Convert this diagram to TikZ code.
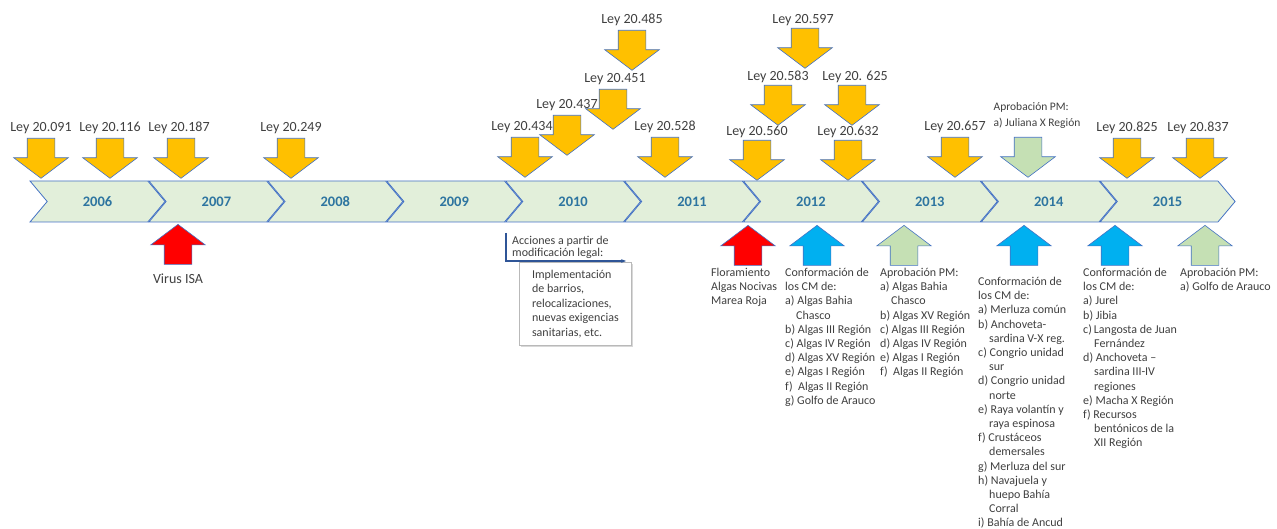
\documentclass[tikz,border=0pt]{standalone}
\usepackage{fontspec}
\setmainfont{Carlito}
\usetikzlibrary{positioning,shapes.arrows,shapes.symbols,shadows,backgrounds,arrows.meta}
\definecolor{leycolor}{RGB}{255,192,0}
\definecolor{edgecolor}{RGB}{68,114,196}
\definecolor{pmcolor}{RGB}{197,224,180}
\definecolor{cmcolor}{RGB}{0,176,240}
\definecolor{isacolor}{RGB}{255,0,0}
\definecolor{chevcolor}{RGB}{226,239,218}
\definecolor{yearcolor}{RGB}{46,117,160}
\definecolor{txtcolor}{RGB}{64,64,64}
\definecolor{acccolor}{RGB}{47,85,151}

\begin{document}
\begin{tikzpicture}[x=1pt, y=-1pt,
  yearbox/.style={signal, signal to=east, signal from=west, signal pointer angle=100,
                  draw=edgecolor, line width=0.8pt, fill=chevcolor, inner sep=0pt,
                  minimum width=135pt, minimum height=41pt,
                  font=\fontsize{14.5}{17}\selectfont\bfseries, text=yearcolor},
  blockarrow/.style={single arrow, draw=edgecolor, line width=0.6pt,
                     inner xsep=0pt, inner ysep=13.5pt, minimum height=40pt,
                     single arrow head extend=13.5pt, single arrow tip angle=106},
  leydown/.style={blockarrow, fill=leycolor, rotate=-90, anchor=tail},
  pmdown/.style={blockarrow, fill=pmcolor, rotate=-90, anchor=tail},
  pmup/.style={blockarrow, fill=pmcolor, rotate=90, anchor=tip},
  cmup/.style={blockarrow, fill=cmcolor, rotate=90, anchor=tip},
  isaup/.style={blockarrow, fill=isacolor, rotate=90, anchor=tip},
  leylabel/.style={font=\fontsize{14}{16}\selectfont, text=txtcolor, inner sep=1pt},
  nota/.style={font=\fontsize{12}{14.2}\selectfont, text=txtcolor, align=left,
               anchor=north west, inner sep=0pt},
  caja/.style={draw=gray!55, fill=white, line width=0.8pt, anchor=north west,
               drop shadow={shadow xshift=1.5pt, shadow yshift=-1.5pt, opacity=0.3},
               minimum width=112pt, minimum height=83pt, inner xsep=10pt,
               align=left, font=\fontsize{12}{14.6}\selectfont, text=txtcolor},
  accline/.style={draw=acccolor, line width=1.2pt, -{Stealth[length=5pt]}}
]
\useasboundingbox (0,0) rectangle (1277,529);
\begin{pgfonlayer}{background}
  \fill[white] (0,0) rectangle (1277,529);
\end{pgfonlayer}

% timeline
\node[yearbox] (y2006) at (97.5,201.5) {2006};
\node[yearbox] (y2007) at (216.4,201.5) {2007};
\node[yearbox] (y2008) at (335.3,201.5) {2008};
\node[yearbox] (y2009) at (454.2,201.5) {2009};
\node[yearbox] (y2010) at (573.1,201.5) {2010};
\node[yearbox] (y2011) at (692.0,201.5) {2011};
\node[yearbox] (y2012) at (810.9,201.5) {2012};
\node[yearbox] (y2013) at (929.8,201.5) {2013};
\node[yearbox] (y2014) at (1048.7,201.5) {2014};
\node[yearbox] (y2015) at (1167.6,201.5) {2015};

% leyes
\node[leydown] (a091) at (41,138) {};
\node[leydown] (a116) at (110,138) {};
\node[leydown] (a187) at (181,138) {};
\node[leydown] (a249) at (291,138) {};
\node[leydown] (a434) at (525,137) {};
\node[leydown] (a437) at (567,115) {};
\node[leydown] (a451) at (613,89) {};
\node[leydown] (a485) at (632,30) {};
\node[leydown] (a528) at (665,137) {};
\node[leydown] (a560) at (757,140) {};
\node[leydown] (a583) at (778,85) {};
\node[leydown] (a597) at (805,28) {};
\node[leydown] (a625) at (852,85) {};
\node[leydown] (a632) at (848,140) {};
\node[leydown] (a657) at (955,137) {};
\node[pmdown] (pm14) at (1028,137) {};
\node[leydown] (a825) at (1127,138) {};
\node[leydown] (a837) at (1200,138) {};

\begin{pgfonlayer}{background}
\node[leylabel, above=3pt of a091.tail] (l091) {Ley 20.091};
\node[leylabel, above=3pt of a116.tail] (l116) {Ley 20.116};
\node[leylabel, above=3pt of a187.tail, xshift=-2pt] (l187) {Ley 20.187};
\node[leylabel, above=3pt of a249.tail] (l249) {Ley 20.249};
\node[leylabel, above=3pt of a434.tail, xshift=-3pt] (l434) {Ley 20.434};
\node[leylabel, above=3pt of a437.tail] (l437) {Ley 20.437};
\node[leylabel, above=3pt of a451.tail, xshift=2pt] (l451) {Ley 20.451};
\node[leylabel, above=3pt of a485.tail] (l485) {Ley 20.485};
\node[leylabel, above=3pt of a528.tail] (l528) {Ley 20.528};
\node[leylabel, above=1pt of a560.tail] (l560) {Ley 20.560};
\node[leylabel, above=1pt of a583.tail] (l583) {Ley 20.583};
\node[leylabel, above=1pt of a597.tail, xshift=-2pt] (l597) {Ley 20.597};
\node[leylabel, above=1pt of a625.tail, xshift=3pt] (l625) {Ley 20. 625};
\node[leylabel, above=1pt of a632.tail] (l632) {Ley 20.632};
\node[leylabel, above=3pt of a657.tail] (l657) {Ley 20.657};
\node[leylabel, font=\fontsize{11.5}{16}\selectfont, align=left,
      above=7pt of pm14.tail, xshift=9pt] (lpm14) {Aprobación PM:\\a) Juliana X Región};
\node[leylabel, above=3pt of a825.tail] (l825) {Ley 20.825};
\node[leylabel, above=3pt of a837.tail, xshift=-2pt] (l837) {Ley 20.837};
\end{pgfonlayer}

% hechos bajo la linea
\node[isaup] (isa07) at (178,224) {};
\node[isaup] (fan12) at (748,225) {};
\node[cmup] (cm12) at (817,225) {};
\node[pmup] (pm13) at (904,225) {};
\node[cmup] (cm14) at (1024,225) {};
\node[cmup] (cm15) at (1115,225) {};
\node[pmup] (pm15) at (1205,225) {};

\node[leylabel, inner sep=0pt, below=9pt of isa07.tail] (isa) {Virus ISA};

\node[nota, font=\fontsize{12}{12}\selectfont] (acc) at (512,236)
  {Acciones a partir de\\modificación legal:};
\node[caja] (impl) at (519,262)
  {Implementación\\de barrios,\\relocalizaciones,\\nuevas exigencias\\sanitarias, etc.};
\coordinate (accA) at (506,233);
\coordinate (accB) at (506,261);
\coordinate (accC) at (626,261);
\draw[accline] (accA) -- (accB) -- (accC);

\node[nota] (fan) at (711,268) {Floramiento\\Algas Nocivas\\Marea Roja};

\node[nota] (tcm12) at (785,268)
  {Conformación de\\los CM de:\\a) Algas Bahia\\\hspace*{11pt}Chasco\\
   b) Algas III Región\\c) Algas IV Región\\d) Algas XV Región\\
   e) Algas I Región\\f)\ \ Algas II Región\\g) Golfo de Arauco};

\node[nota] (tpm13) at (880,268)
  {Aprobación PM:\\a) Algas Bahia\\\hspace*{11pt}Chasco\\b) Algas XV Región\\
   c) Algas III Región\\d) Algas IV Región\\e) Algas I Región\\f)\ \ Algas II Región};

\node[nota] (tcm14) at (978,277)
  {Conformación de\\los CM de:\\a) Merluza común\\b) Anchoveta-\\
   \hspace*{11pt}sardina V-X reg.\\c) Congrio unidad\\\hspace*{11pt}sur\\
   d) Congrio unidad\\\hspace*{11pt}norte\\e) Raya volantín y\\
   \hspace*{11pt}raya espinosa\\f) Crustáceos\\\hspace*{11pt}demersales\\
   g) Merluza del sur\\h) Navajuela y\\\hspace*{11pt}huepo Bahía\\
   \hspace*{11pt}Corral\\i) Bahía de Ancud};

\node[nota] (tcm15) at (1083,268)
  {Conformación de\\los CM de:\\a) Jurel\\b) Jibia\\c)\,Langosta de Juan\\
   \hspace*{11pt}Fernández\\d) Anchoveta --\\\hspace*{11pt}sardina III-IV\\
   \hspace*{11pt}regiones\\e) Macha X Región\\f) Recursos\\
   \hspace*{11pt}bentónicos de la\\\hspace*{11pt}XII Región};

\node[nota] (tpm15) at (1180,268) {Aprobación PM:\\a) Golfo de Arauco};

\end{tikzpicture}
\end{document}
